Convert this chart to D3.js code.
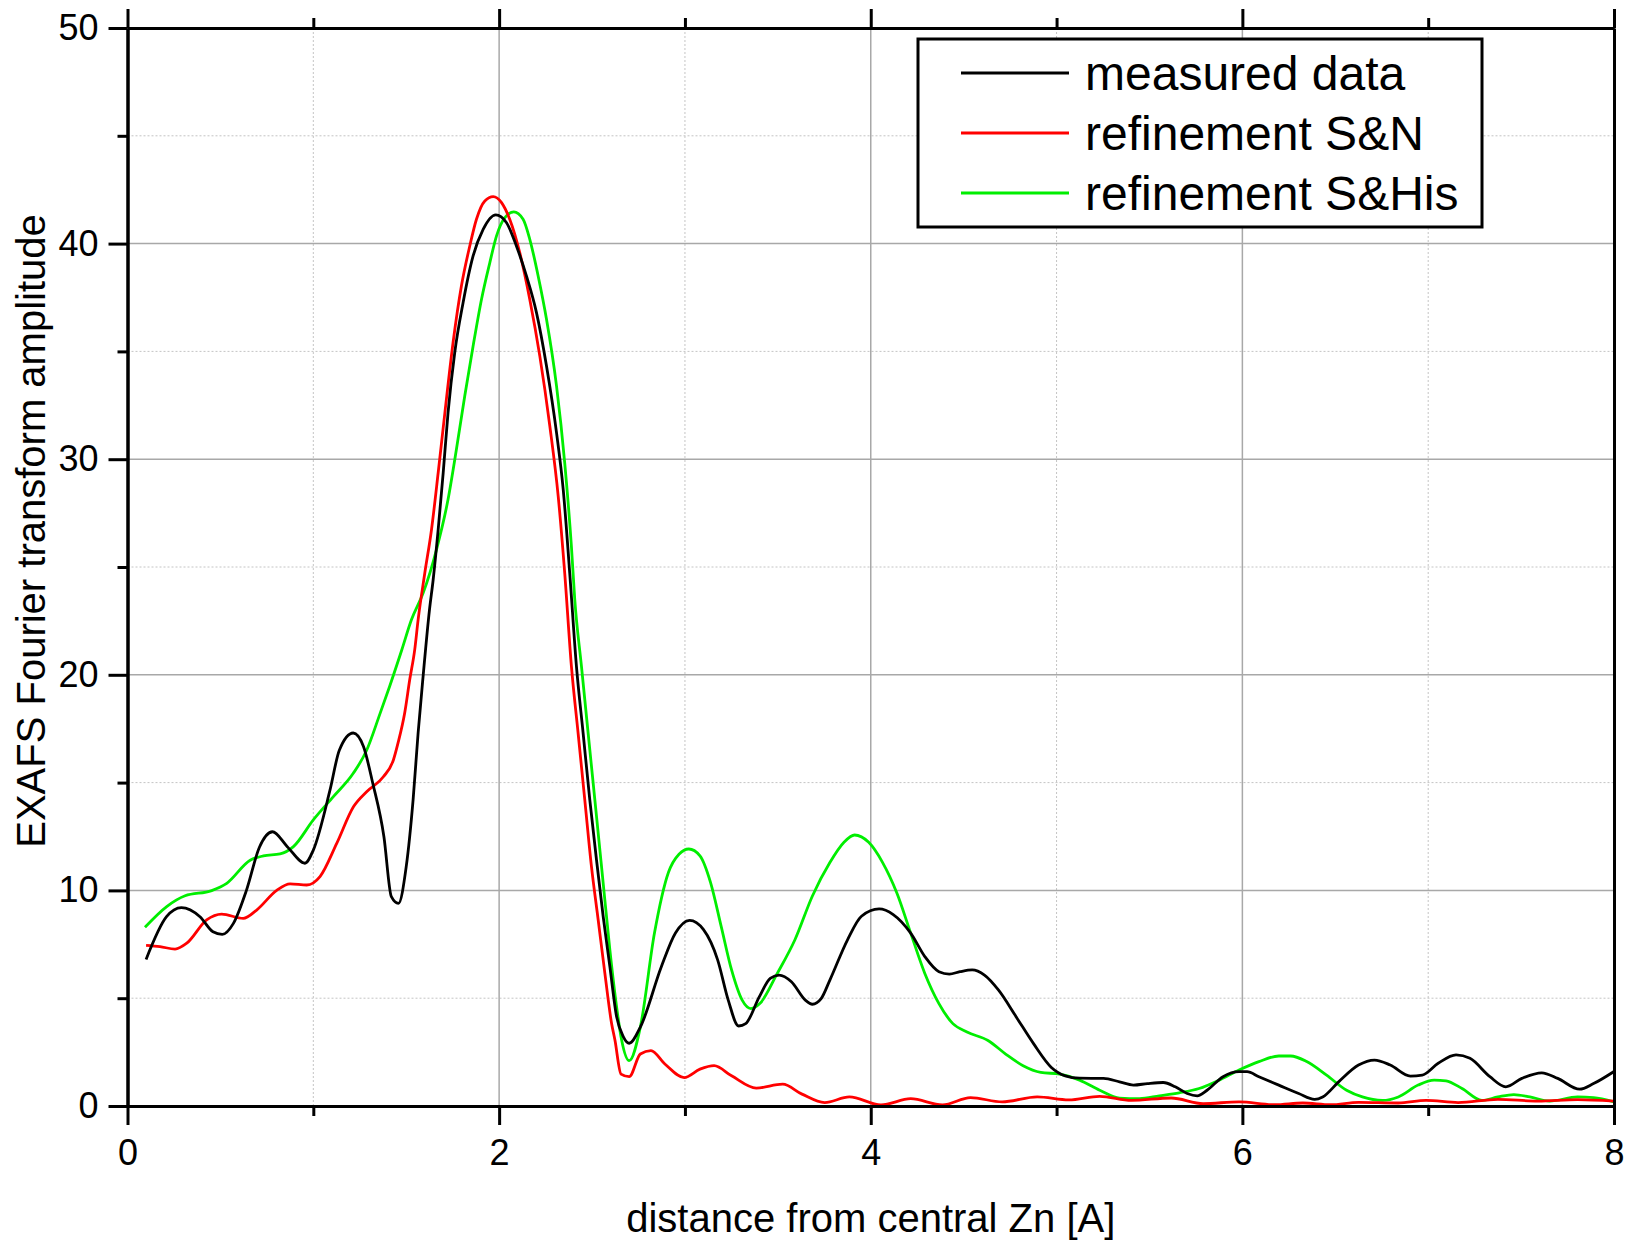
<!DOCTYPE html>
<html>
<head>
<meta charset="utf-8">
<script src="https://cdn.jsdelivr.net/npm/d3@7"></script>
<style>
body { margin: 0; background: #fff; }
text { font-family: "Liberation Sans", Arial, sans-serif; fill: #000; }
</style>
</head>
<body>
<svg id="chart" width="1625" height="1241"></svg>
<script>
// [distance, amplitude]
var measured = [[0.10,6.8],[0.21,8.78],[0.29,9.2],[0.39,8.78],[0.46,8.08],[0.51,7.96],[0.57,8.47],[0.64,10.0],[0.71,12.0],[0.78,12.72],[0.86,12.03],[0.955,11.26],[1.0,11.87],[1.09,14.66],[1.14,16.5],[1.215,17.3],[1.27,16.67],[1.32,14.97],[1.38,12.49],[1.42,9.71],[1.458,9.4],[1.50,11.1],[1.537,14.2],[1.564,17.3],[1.591,19.94],[1.625,23.0],[1.645,24.41],[1.672,26.73],[1.699,29.37],[1.725,32.15],[1.761,34.94],[1.806,37.26],[1.86,39.43],[1.914,40.66],[1.982,41.33],[2.039,40.98],[2.093,39.89],[2.147,38.5],[2.201,36.8],[2.255,34.32],[2.309,31.22],[2.345,28.59],[2.38,24.72],[2.416,20.4],[2.452,17.3],[2.488,14.2],[2.524,11.42],[2.56,8.79],[2.596,6.47],[2.632,4.15],[2.668,3.22],[2.70,2.91],[2.76,3.66],[2.873,6.46],[2.949,8.02],[3.025,8.61],[3.10,8.18],[3.176,6.78],[3.233,4.91],[3.289,3.71],[3.327,3.82],[3.40,5.06],[3.459,5.92],[3.507,6.07],[3.573,5.76],[3.648,4.91],[3.686,4.72],[3.733,4.98],[3.78,5.84],[3.875,7.71],[3.95,8.8],[4.045,9.14],[4.121,8.88],[4.215,8.02],[4.291,6.93],[4.367,6.23],[4.423,6.12],[4.48,6.23],[4.546,6.31],[4.612,6.07],[4.688,5.37],[4.783,4.13],[4.877,2.88],[4.972,1.79],[5.047,1.40],[5.123,1.29],[5.253,1.28],[5.339,1.12],[5.414,0.97],[5.489,1.04],[5.574,1.09],[5.639,0.89],[5.703,0.58],[5.757,0.47],[5.81,0.73],[5.896,1.36],[5.982,1.59],[6.025,1.59],[6.089,1.36],[6.196,0.97],[6.303,0.58],[6.389,0.31],[6.432,0.42],[6.518,1.12],[6.625,1.90],[6.711,2.13],[6.796,1.90],[6.904,1.39],[6.968,1.43],[7.054,1.98],[7.15,2.37],[7.225,2.21],[7.332,1.36],[7.418,0.89],[7.504,1.28],[7.611,1.54],[7.697,1.28],[7.815,0.78],[7.89,1.04],[8.0,1.6]]

var refineSN = [[0.10,7.45],[0.175,7.39],[0.256,7.28],[0.319,7.55],[0.426,8.63],[0.507,8.9],[0.623,8.7],[0.695,9.09],[0.803,10.0],[0.875,10.3],[0.965,10.25],[1.036,10.64],[1.126,12.18],[1.216,13.88],[1.287,14.58],[1.377,15.27],[1.431,16.05],[1.456,16.84],[1.492,18.24],[1.519,19.78],[1.546,21.18],[1.564,22.55],[1.60,24.72],[1.636,26.73],[1.672,29.37],[1.708,32.15],[1.752,35.4],[1.797,38.03],[1.842,39.89],[1.878,41.13],[1.923,41.98],[1.968,42.18],[2.013,41.9],[2.057,41.13],[2.111,39.58],[2.165,37.41],[2.219,34.78],[2.273,31.53],[2.318,28.28],[2.353,24.72],[2.389,20.4],[2.425,17.3],[2.461,14.2],[2.497,11.1],[2.533,8.64],[2.569,6.16],[2.605,3.84],[2.623,3.07],[2.656,1.48],[2.70,1.36],[2.76,2.41],[2.817,2.57],[2.892,1.95],[2.996,1.32],[3.081,1.71],[3.157,1.87],[3.251,1.40],[3.384,0.83],[3.526,1.01],[3.63,0.55],[3.752,0.16],[3.885,0.42],[4.055,0.05],[4.215,0.34],[4.386,0.05],[4.537,0.39],[4.707,0.19],[4.896,0.42],[5.066,0.28],[5.232,0.45],[5.403,0.26],[5.617,0.37],[5.789,0.11],[5.982,0.19],[6.175,0.06],[6.325,0.14],[6.475,0.06],[6.625,0.17],[6.839,0.14],[6.989,0.26],[7.161,0.16],[7.375,0.31],[7.59,0.23],[7.804,0.30],[8.0,0.23]]

var refineSHis = [[0.094,8.29],[0.211,9.25],[0.31,9.75],[0.453,9.99],[0.534,10.33],[0.66,11.4],[0.731,11.6],[0.821,11.69],[0.893,12.03],[1.0,13.27],[1.108,14.35],[1.215,15.43],[1.287,16.5],[1.359,18.2],[1.411,19.47],[1.476,21.15],[1.528,22.55],[1.591,23.79],[1.663,25.81],[1.725,28.13],[1.77,30.45],[1.815,32.93],[1.86,35.25],[1.905,37.41],[1.95,39.12],[1.986,40.36],[2.031,41.21],[2.079,41.47],[2.129,41.13],[2.165,40.2],[2.21,38.5],[2.255,36.49],[2.309,33.39],[2.353,29.83],[2.389,25.96],[2.407,23.5],[2.443,20.4],[2.479,17.3],[2.524,13.44],[2.56,10.34],[2.596,7.24],[2.632,4.61],[2.659,3.07],[2.70,2.1],[2.76,3.66],[2.836,8.02],[2.911,10.83],[2.968,11.68],[3.021,11.92],[3.081,11.6],[3.138,10.36],[3.195,8.33],[3.251,6.31],[3.308,4.91],[3.355,4.52],[3.403,4.75],[3.497,6.15],[3.592,7.71],[3.686,9.74],[3.78,11.29],[3.856,12.23],[3.913,12.57],[3.989,12.23],[4.064,11.29],[4.14,9.89],[4.215,8.02],[4.291,6.15],[4.367,4.75],[4.442,3.82],[4.518,3.43],[4.631,3.04],[4.726,2.41],[4.82,1.87],[4.915,1.56],[5.017,1.48],[5.124,1.20],[5.232,0.73],[5.339,0.37],[5.446,0.34],[5.553,0.47],[5.66,0.61],[5.767,0.81],[5.875,1.20],[5.982,1.67],[6.089,2.06],[6.196,2.32],[6.26,2.32],[6.346,2.06],[6.453,1.43],[6.561,0.73],[6.646,0.42],[6.754,0.26],[6.839,0.42],[6.946,0.97],[7.032,1.20],[7.096,1.17],[7.182,0.81],[7.289,0.26],[7.375,0.42],[7.461,0.53],[7.547,0.42],[7.654,0.23],[7.804,0.42],[7.89,0.39],[8.0,0.19]]

var seriesNames = ["measured data", "refinement S&N", "refinement S&His"]
var seriesColors = ["#000000", "#ff0000", "#00ee00"]

var xMajor = [0, 2, 4, 6, 8]
var xMinor = [1, 3, 5, 7]
var yMajor = [0, 10, 20, 30, 40, 50]
var yMinor = [5, 15, 25, 35, 45]

var xTitle = "distance from central Zn [A]"
var yTitle = "EXAFS Fourier transform amplitude"

// plot frame (window.top is taken, so prefix these)
var plotLeft = 127.5, plotRight = 1614, plotTop = 28, plotBottom = 1106

var svg = d3.select("#chart")

var x = d3.scaleLinear().domain([0, 8]).range([plotLeft, plotRight])
var y = d3.scaleLinear().domain([0, 50]).range([plotBottom, plotTop])

//grid
var grid = svg.append("g")
grid.selectAll(".vmin").data(xMinor).enter().append("line").
	attr("x1", function(d){ return x(d) }).attr("x2", function(d){ return x(d) }).
	attr("y1", plotTop).attr("y2", plotBottom).
	style("stroke", "#c4c4c4").style("stroke-width", 1).style("stroke-dasharray", "2,2")
grid.selectAll(".hmin").data(yMinor).enter().append("line").
	attr("x1", plotLeft).attr("x2", plotRight).
	attr("y1", function(d){ return y(d) }).attr("y2", function(d){ return y(d) }).
	style("stroke", "#c4c4c4").style("stroke-width", 1).style("stroke-dasharray", "2,2")
grid.selectAll(".vmaj").data(xMajor.slice(1, -1)).enter().append("line").
	attr("x1", function(d){ return x(d) }).attr("x2", function(d){ return x(d) }).
	attr("y1", plotTop).attr("y2", plotBottom).
	style("stroke", "#a8a8a8").style("stroke-width", 1.5)
grid.selectAll(".hmaj").data(yMajor.slice(1, -1)).enter().append("line").
	attr("x1", plotLeft).attr("x2", plotRight).
	attr("y1", function(d){ return y(d) }).attr("y2", function(d){ return y(d) }).
	style("stroke", "#a8a8a8").style("stroke-width", 1.5)

//curves
svg.append("clipPath").attr("id", "plot").append("rect").
	attr("x", plotLeft).attr("y", plotTop).
	attr("width", plotRight - plotLeft).attr("height", plotBottom - plotTop)

var line = d3.line().
	x(function(d){ return x(d[0]) }).
	y(function(d){ return y(d[1]) }).
	curve(d3.curveMonotoneX)

var series = [measured, refineSN, refineSHis]
svg.append("g").attr("clip-path", "url(#plot)").
	selectAll("path").data([2, 1, 0]).enter().append("path").
	attr("d", function(i){ return line(series[i]) }).
	style("fill", "none").
	style("stroke", function(i){ return seriesColors[i] }).
	style("stroke-width", 2.8).
	style("stroke-linejoin", "round")

//axes
function styleAxis(g){
	g.select(".domain").style("stroke", "#000").style("stroke-width", 3)
	g.selectAll(".tick line").style("stroke", "#000").style("stroke-width", 3)
	g.selectAll(".tick text").style("font-size", "36px").style("font-family", "Liberation Sans, Arial, sans-serif")
}

svg.append("g").attr("transform", "translate(0," + plotBottom + ")").
	call(d3.axisBottom(x).tickValues(xMajor).tickSize(19).tickSizeOuter(0).tickPadding(14).tickFormat(d3.format("d"))).
	call(styleAxis)
svg.append("g").attr("transform", "translate(0," + plotBottom + ")").
	call(d3.axisBottom(x).tickValues(xMinor).tickSize(10).tickSizeOuter(0).tickFormat("")).
	call(styleAxis)
svg.append("g").attr("transform", "translate(0," + plotTop + ")").
	call(d3.axisTop(x).tickValues(xMajor).tickSize(19).tickSizeOuter(0).tickFormat("")).
	call(styleAxis)
svg.append("g").attr("transform", "translate(0," + plotTop + ")").
	call(d3.axisTop(x).tickValues(xMinor).tickSize(10).tickSizeOuter(0).tickFormat("")).
	call(styleAxis)
svg.append("g").attr("transform", "translate(" + plotLeft + ",0)").
	call(d3.axisLeft(y).tickValues(yMajor).tickSize(19).tickSizeOuter(0).tickPadding(10).tickFormat(d3.format("d"))).
	call(styleAxis)
svg.append("g").attr("transform", "translate(" + plotLeft + ",0)").
	call(d3.axisLeft(y).tickValues(yMinor).tickSize(10).tickSizeOuter(0).tickFormat("")).
	call(styleAxis)
svg.append("g").attr("transform", "translate(" + plotRight + ",0)").
	call(d3.axisRight(y).tickValues([]).tickSizeOuter(0)).
	call(styleAxis)

//titles
svg.append("text").
	attr("x", (plotLeft + plotRight) / 2).attr("y", 1232).
	attr("text-anchor", "middle").
	style("font-size", "40px").
	text(xTitle)

svg.append("text").
	attr("transform", "translate(45,531) rotate(-90)").
	attr("text-anchor", "middle").
	style("font-size", "40px").
	text(yTitle)

//legend
var legend = svg.append("g")
legend.append("rect").
	attr("x", 918).attr("y", 39).
	attr("width", 564).attr("height", 188).
	style("fill", "white").style("stroke", "#000").style("stroke-width", 3)

var rowY = [73, 133, 193]
var item = legend.selectAll(".item").data(seriesNames).enter().append("g")
item.append("line").
	attr("x1", 961).attr("x2", 1069).
	attr("y1", function(d, i){ return rowY[i] }).attr("y2", function(d, i){ return rowY[i] }).
	style("stroke", function(d, i){ return seriesColors[i] }).
	style("stroke-width", 3)
item.append("text").
	attr("x", 1085).
	attr("y", function(d, i){ return rowY[i] + 17 }).
	style("font-size", "48px").
	text(function(d){ return d })
</script>
</body>
</html>
